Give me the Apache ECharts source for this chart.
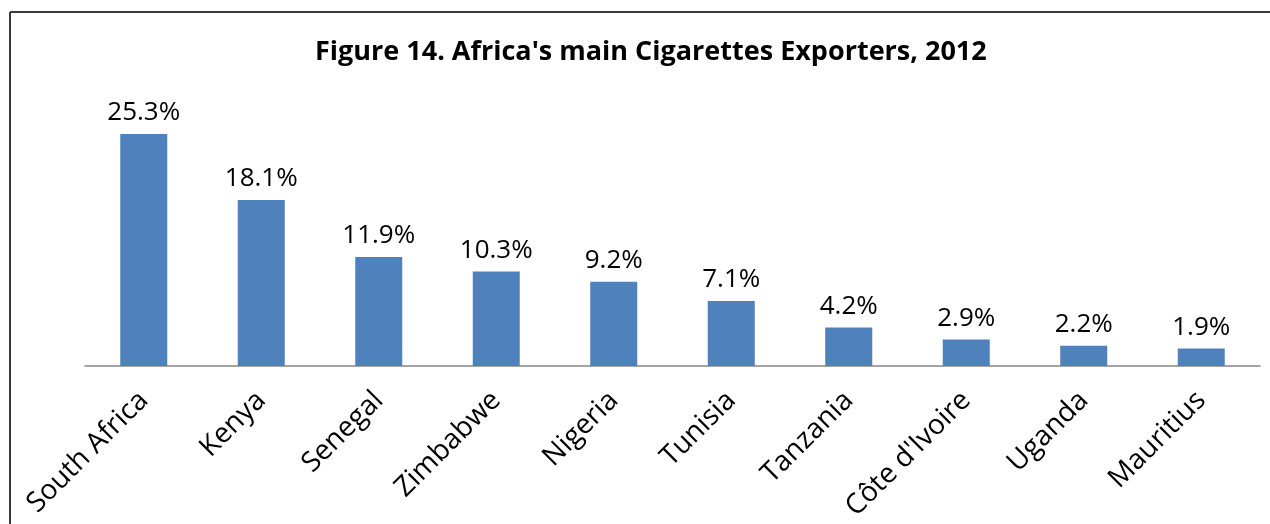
<!DOCTYPE html>
<html>
<head>
<meta charset="utf-8">
<script src="https://cdn.jsdelivr.net/npm/echarts@6/dist/echarts.min.js"></script>
<style>
html,body{margin:0;padding:0;background:#fff;}
#c{width:1270px;height:524px;}
</style>
</head>
<body>
<div id="c"></div>
<script>
var categories = ["South Africa","Kenya","Senegal","Zimbabwe","Nigeria","Tunisia","Tanzania","Côte d'Ivoire","Uganda","Mauritius"];
var shares = [25.3,18.1,11.9,10.3,9.2,7.1,4.2,2.9,2.2,1.9];
var titleText = "Figure 14. Africa's main Cigarettes Exporters, 2012";

var chart = echarts.init(document.getElementById('c'));
chart.setOption({
  backgroundColor:'#fff',
  animation:false,
  title:{
    text:titleText,
    left:310,
    top:34,
    textStyle:{fontFamily:'Open Sans',fontWeight:'bold',fontSize:27,color:'#000'}
  },
  graphic:[
    {type:'line',shape:{x1:10,y1:12,x2:1270,y2:12},style:{stroke:'#3a3a3a',lineWidth:2}},
    {type:'line',shape:{x1:10,y1:12,x2:10,y2:524},style:{stroke:'#3a3a3a',lineWidth:2}}
  ],
  grid:{left:85,right:10,top:91,bottom:158},
  xAxis:{
    type:'category',
    data:categories,
    axisLine:{lineStyle:{color:'#868686',width:1.5}},
    axisTick:{show:false},
    axisLabel:{rotate:45,interval:0,margin:30,fontFamily:'Open Sans',fontSize:28,color:'#000'}
  },
  yAxis:{type:'value',min:0,max:30,show:false,splitLine:{show:false}},
  series:[{
    type:'bar',
    data:shares,
    barWidth:'40%',
    itemStyle:{color:'#4F81BD'},
    label:{show:true,position:'top',distance:8,fontFamily:'Open Sans',fontSize:26,color:'#000',
      formatter:function(p){return p.value.toFixed(1)+'%';}}
  }]
});
</script>
</body>
</html>
